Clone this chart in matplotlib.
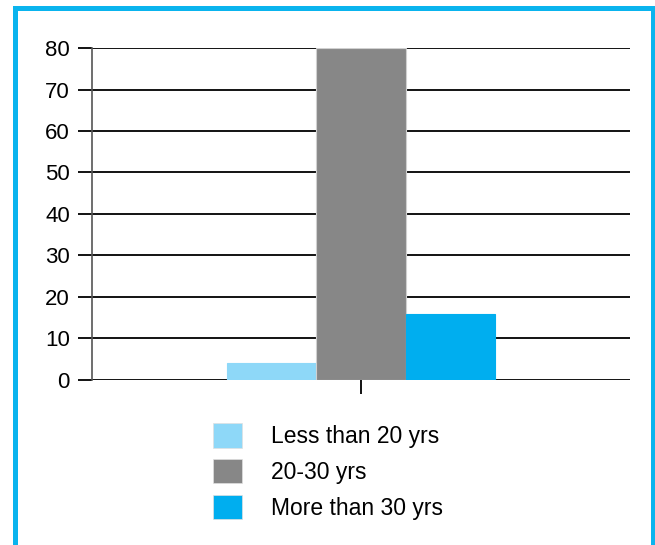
import matplotlib.pyplot as plt
from matplotlib.patches import Rectangle, Patch

plt.rcParams['font.family'] = ['Liberation Sans', 'DejaVu Sans']

# age groups and their share
groups = ["Less than 20 yrs", "20-30 yrs", "More than 30 yrs"]
values = [4, 80, 16]
colors = ["#8ED8F8", "#878787", "#00AEEF"]
yticks = [0, 10, 20, 30, 40, 50, 60, 70, 80]

fig = plt.figure(figsize=(6.55, 5.45), dpi=100)
ax = fig.add_axes([0.1405, 0.3028, 0.8213, 0.6091])

bar_w = 1 / 3
offsets = [-bar_w, 0, bar_w]
for off, val, col in zip(offsets, values, colors):
    ax.bar(off, val, width=bar_w, color=col, edgecolor="#d0d0d0" if col == "#878787" else col,
           linewidth=0.8, zorder=3)

ax.set_xlim(-1, 1)
ax.set_ylim(0, 80)
ax.set_yticks(yticks)
ax.set_xticks([0])
ax.set_xticklabels([""])
ax.yaxis.grid(True, color="black", linewidth=1.3, zorder=1)
ax.set_axisbelow(True)
for side in ["top", "right", "bottom"]:
    ax.spines[side].set_visible(False)
ax.spines["left"].set_color("#555555")
ax.spines["left"].set_linewidth(1.2)
ax.tick_params(axis="y", length=10, width=1.3, color="black", labelsize=16, pad=6)
ax.tick_params(axis="x", length=10, width=1.3, color="black", direction="out")

# legend below the plot
handles = [Patch(facecolor=c, edgecolor="#e0e0e0", linewidth=0.5) for c in colors]
fig.legend(handles, groups, loc="upper left", bbox_to_anchor=(213 / 655, 1 - 423 / 545),
           frameon=False, fontsize=16.5, handlelength=1.27, handleheight=1.27,
           handletextpad=1.25, labelspacing=0.48, borderaxespad=0, borderpad=0)

# cyan frame around the figure
fig.patches.append(Rectangle((15 / 655, -0.1), 638 / 655, 1.1 - 8.5 / 545,
                             transform=fig.transFigure, fill=False,
                             edgecolor="#0AB4EE", linewidth=3.6))

fig.savefig("out.png", dpi=100)
